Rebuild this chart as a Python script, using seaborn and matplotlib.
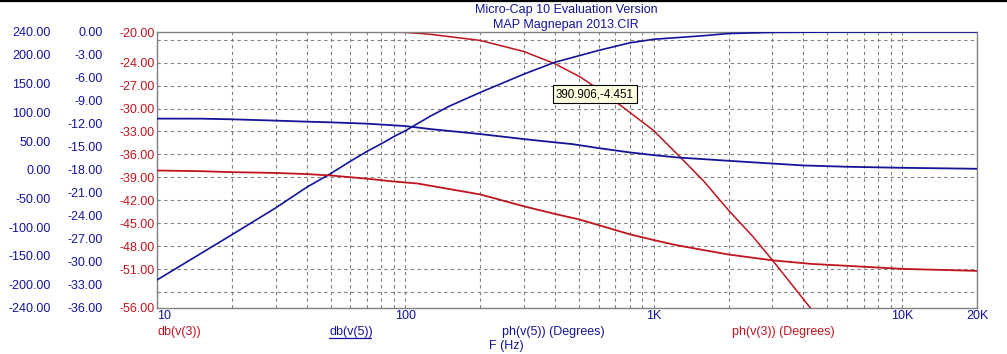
import numpy as np
import pandas as pd
import matplotlib
matplotlib.use("Agg")
import matplotlib.pyplot as plt
import seaborn as sns
from matplotlib.lines import Line2D

# ---------------- data ----------------
title_lines = ["Micro-Cap 10 Evaluation Version", "MAP Magnepan 2013.CIR"]

freq_db5 = [10, 20, 30, 40, 50, 60, 70, 80, 90, 100, 126, 150, 200, 300, 400,
            500, 600, 800, 1000, 1590, 2000, 3000, 5000, 10000, 20000]
db_v5 = [-32.4, -26.5, -23.0, -20.3, -18.5, -16.9, -15.6, -14.6, -13.65, -12.9,
         -11.0, -9.7, -7.9, -5.5, -3.95, -3.1, -2.4, -1.42, -0.95, -0.48, -0.2,
         -0.05, -0.01, 0.0, 0.0]

freq_ph5 = [10, 15, 20, 30, 40, 50, 70, 100, 126, 200, 300, 400, 469, 600, 800,
            1000, 1246, 2000, 3000, 4000, 6000, 10000, 20000]
ph_v5 = [89.1, 89.0, 87.9, 85.6, 83.8, 82.6, 80.3, 76.1, 70.9, 62.2, 53.4, 47.7,
         44.7, 37.7, 30.2, 25.5, 21.4, 15.6, 10.8, 7.5, 5.2, 3.4, 1.7]

freq_db3 = [10, 30, 50, 80, 100, 126, 200, 300, 400, 507, 600, 715, 800, 1000,
            1246, 1590, 2000, 2500, 3000, 4000, 4400, 5000]
db_v3 = [-19.6, -19.8, -19.95, -20.0, -20.05, -20.3, -21.1, -22.55, -24.15,
         -25.9, -27.5, -29.3, -30.5, -32.9, -36.0, -39.5, -43.3, -46.7, -49.8,
         -54.9, -56.6, -58.5]

freq_ph3 = [10, 15, 20, 30, 40, 50, 60, 70, 90, 112, 200, 300, 400, 500, 600,
            800, 1000, 1246, 2000, 3000, 4300, 6000, 10000, 20000]
ph_v3 = [-1.3, -2.5, -4.2, -5.6, -7.5, -10.0, -13.0, -15.6, -20.5, -24.0, -43.0,
         -63.7, -77.0, -86.5, -96.5, -112.4, -122.5, -131.8, -147.7, -157.8,
         -164.0, -167.4, -172.7, -176.2]

x_ticks = [10, 100, 1000, 10000, 20000]
x_ticklabels = ["10", "100", "1K", "10K", "20K"]
db3_ticks = [-20, -24, -27, -30, -33, -36, -39, -42, -45, -48, -51, -56]
db5_ticks = [0, -3, -6, -9, -12, -15, -18, -21, -24, -27, -30, -33, -36]
ph_ticks = [240, 200, 150, 100, 50, 0, -50, -100, -150, -200, -240]

cursor_f = 390.906
cursor_db = -4.451

trace_labels = ["db(v(3))", "db(v(5))", "ph(v(5)) (Degrees)", "ph(v(3)) (Degrees)"]
x_label = "F (Hz)"

# ---------------- style ----------------
sns.set_style("white")
plt.rcParams["font.family"] = ["Liberation Sans", "DejaVu Sans"]
plt.rcParams["font.size"] = 9

BLUE = "#14149a"
RED = "#c0141e"
GRID = "#808080"

W, H = 1007, 354
fig = plt.figure(figsize=(W / 100, H / 100), dpi=100)
fig.patch.set_facecolor("white")
L, R, T, B = 157, 977, 32, 307.5
ax = fig.add_axes([L / W, 1 - B / H, (R - L) / W, (B - T) / H])
ax2 = ax.twinx()
ax3 = ax.twinx()

df3 = pd.DataFrame({"f": freq_db3, "v": db_v3})
df5 = pd.DataFrame({"f": freq_db5, "v": db_v5})
dp5 = pd.DataFrame({"f": freq_ph5, "v": ph_v5})
dp3 = pd.DataFrame({"f": freq_ph3, "v": ph_v3})

sns.lineplot(data=df3, x="f", y="v", ax=ax, color=RED, lw=1.1, estimator=None, sort=False)
sns.lineplot(data=df5, x="f", y="v", ax=ax2, color=BLUE, lw=1.2, estimator=None, sort=False)
sns.lineplot(data=dp5, x="f", y="v", ax=ax3, color=BLUE, lw=1.3, estimator=None, sort=False)
sns.lineplot(data=dp3, x="f", y="v", ax=ax3, color=RED, lw=1.3, estimator=None, sort=False)

for a in (ax, ax2, ax3):
    a.set_xscale("log")
    a.set_xlim(10, 20000)
    a.set_xlabel("")
    a.set_ylabel("")

ax.set_ylim(-56, -20)
ax2.set_ylim(-36, 0)
ax3.set_ylim(-240, 240)

gridline_style = dict(color=GRID, linestyle=(0, (3, 3)), lw=0.8)

# x axis ticks / grid
minor_x = [m * d for d in (10, 100, 1000) for m in range(2, 10)]
ax.set_xticks(x_ticks)
ax.set_xticklabels(x_ticklabels, color=BLUE)
ax.set_xticks(minor_x, minor=True)
ax.xaxis.set_minor_formatter(plt.NullFormatter())
ax.get_xticklabels()[0].set_ha("left")
ax.tick_params(axis="x", which="both", length=0, pad=2)

# red y axis: labelled ticks + unlabelled grid positions
grid_y = list(np.arange(-54, -20, 3))
all_y = sorted(set(db3_ticks) | set(int(v) for v in grid_y), reverse=True)
ax.set_yticks(all_y)
ax.set_yticklabels([f"{v:.2f}" if v in db3_ticks else "" for v in all_y], color=RED)
ax.tick_params(axis="y", which="both", length=0, pad=1.5)

ax.grid(False)
ax.xaxis.grid(True, which="both", **gridline_style)
ax.yaxis.grid(True, which="major", **gridline_style)
for v, gl in zip(all_y, ax.yaxis.get_gridlines()):
    if v in (-20, -56):
        gl.set_visible(False)

for s in ax.spines.values():
    s.set_color(GRID)
    s.set_linewidth(1.0)

ax2.yaxis.tick_left()
ax2.set_yticks(db5_ticks)
ax2.set_yticklabels([f"{v:.2f}" for v in db5_ticks], color=BLUE)
ax2.tick_params(axis="y", length=0, pad=39)
ax3.yaxis.tick_left()
ax3.set_yticks(ph_ticks)
ax3.set_yticklabels([f"{v:.2f}" for v in ph_ticks], color=BLUE)
ax3.tick_params(axis="y", length=0, pad=76.5)
for a in (ax2, ax3):
    a.grid(False)
    for s in a.spines.values():
        s.set_visible(False)
    a.tick_params(axis="x", which="both", length=0, labelbottom=False)

# cursor tag
ax2.annotate(f"{cursor_f:.3f},{cursor_db:.3f}", xy=(cursor_f, cursor_db),
             xytext=(3.5, -28), textcoords="offset pixels", ha="left", va="center",
             fontsize=8.4, color="black",
             bbox=dict(boxstyle="square,pad=0.25", fc="#ffffe1", ec="black", lw=0.8))

fig.text(566 / W, 1 - 9.5 / H, title_lines[0], ha="center", va="center", color=BLUE, fontsize=9)
fig.text(566 / W, 1 - 25 / H, title_lines[1], ha="center", va="center", color=BLUE, fontsize=9)

yb = 1 - 331.5 / H
fig.text(157.5 / W, yb, trace_labels[0], ha="left", va="center", color=RED, fontsize=9)
fig.text(329 / W, yb, trace_labels[1], ha="left", va="center", color=BLUE, fontsize=9)
fig.add_artist(Line2D([329 / W, 371 / W], [1 - 337.5 / H] * 2, color=BLUE, lw=0.9,
                      transform=fig.transFigure))
fig.text(501.5 / W, yb, trace_labels[2], ha="left", va="center", color=BLUE, fontsize=9)
fig.text(732 / W, yb, trace_labels[3], ha="left", va="center", color=RED, fontsize=9)
fig.text(506 / W, 1 - 346 / H, x_label, ha="center", va="center", color=BLUE, fontsize=9)

fig.add_artist(Line2D([0, 1], [1 - 0.8 / H] * 2, color="black", lw=1.6,
                      transform=fig.transFigure))

fig.savefig("out.png", dpi=100, facecolor="white")
